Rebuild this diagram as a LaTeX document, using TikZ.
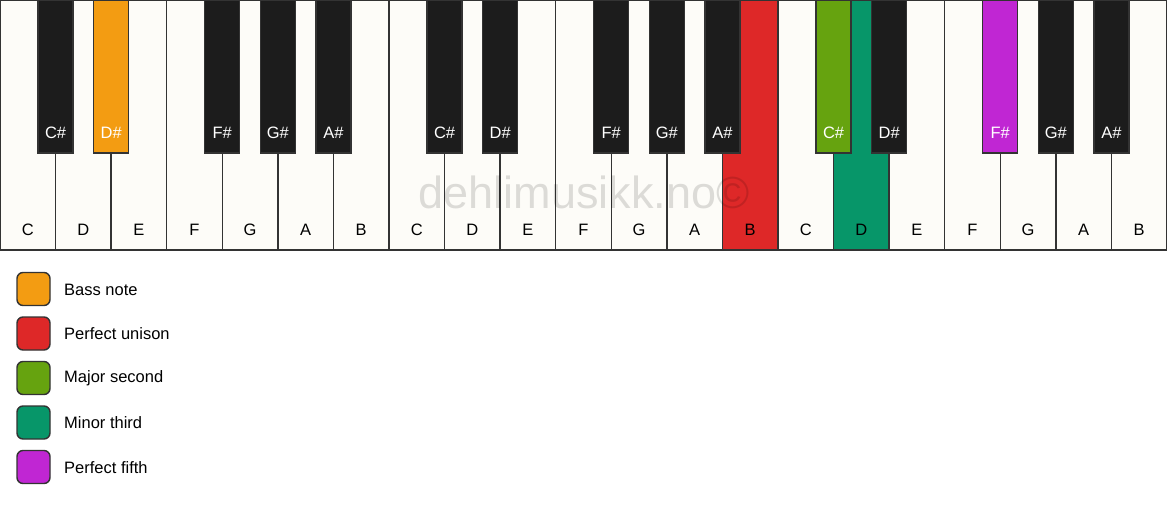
\documentclass[tikz,border=0pt]{standalone}
\usepackage{fontspec}
\setmainfont{Liberation Sans}
\definecolor{keywhite}{HTML}{FDFCF8}
\definecolor{keyblack}{HTML}{1C1C1C}
\definecolor{keyedge}{HTML}{333333}
\definecolor{bassnote}{HTML}{F39C12}
\definecolor{unison}{HTML}{DE2828}
\definecolor{second}{HTML}{66A30F}
\definecolor{minthird}{HTML}{079669}
\definecolor{fifth}{HTML}{C026D3}
\tikzset{
  whitekey/.style={draw=keyedge, line width=1.4pt},
  blackkey/.style={draw=keyedge, line width=1.4pt},
  keylabel/.style={inner sep=0pt, font=\fontsize{16.5}{19}\selectfont},
  swatch/.style={draw=keyedge, line width=1.4pt, rounded corners=6pt},
}
\begin{document}
\begin{tikzpicture}[x=1pt, y=-1pt]
    \useasboundingbox[fill=white] (0,0) rectangle (1167,506);
    \def\kw{55.571}
    % white keys
    \foreach \n [count=\i from 0] in {C,D,E,F,G,A,B,C,D,E,F,G,A,B,C,D,E,F,G,A,B} {
        \def\kfill{keywhite}
        \ifnum\i=13 \def\kfill{unison}\fi
        \ifnum\i=15 \def\kfill{minthird}\fi
        \draw[whitekey, fill=\kfill] (\i*\kw, 0) rectangle ({(\i+1)*\kw}, 250);
        \node[keylabel] (w\i) at ({(\i+0.5)*\kw}, 230) {\n};
    }
    % watermark
    \node[inner sep=0pt, anchor=base, text=black, opacity=0.13,
          font=\fontsize{45}{50}\selectfont] (mark) at (584, 208) {dehlimusikk.no©};
    % black keys
    \foreach \j/\n in {0/C\#,1/D\#,3/F\#,4/G\#,5/A\#,7/C\#,8/D\#,10/F\#,11/G\#,12/A\#,
                       14/C\#,15/D\#,17/F\#,18/G\#,19/A\#} {
        \def\kfill{keyblack}
        \ifnum\j=1 \def\kfill{bassnote}\fi
        \ifnum\j=14 \def\kfill{second}\fi
        \ifnum\j=17 \def\kfill{fifth}\fi
        \draw[blackkey, fill=\kfill] ({(\j+1)*\kw-17.5}, 0) rectangle ({(\j+1)*\kw+17.5}, 153);
        \node[keylabel, text=white] (b\j) at ({(\j+1)*\kw}, 133) {\n};
    }
    % legend
    \foreach \c/\t [count=\k from 0] in {bassnote/Bass note, unison/Perfect unison,
            second/Major second, minthird/Minor third, fifth/Perfect fifth} {
        \draw[swatch, fill=\c] (17, {272.5+\k*44.5}) rectangle (50, {305.5+\k*44.5});
        \node[keylabel, anchor=west] (l\k) at (64, {289.5+\k*44.5}) {\t};
    }
\end{tikzpicture}
\end{document}
